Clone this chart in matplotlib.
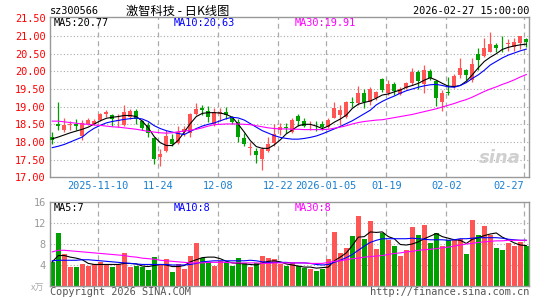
import matplotlib
matplotlib.use("Agg")
import matplotlib.pyplot as plt
import numpy as np

# daily candles, 2025-10-29 .. 2026-02-27 (80 trading days)
opens = [18.14, 18.50, 18.33, 18.48, 18.50, 18.17, 18.51, 18.51, 18.63, 18.79,
         18.75, 18.58, 18.49, 18.70, 18.87, 18.59, 18.49, 18.10, 17.58, 17.75,
         18.09, 17.98, 18.28, 18.26, 18.79, 18.95, 18.89, 18.51, 18.80, 18.84,
         18.70, 18.56, 18.12, 17.84, 17.75, 17.51, 17.75, 17.97, 18.34, 18.42,
         18.29, 18.74, 18.59, 18.44, 18.46, 18.50, 18.43, 18.69, 18.75, 18.72,
         19.12, 19.09, 19.40, 19.12, 19.25, 19.78, 19.38, 19.63, 19.35, 19.54,
         19.66, 19.99, 19.63, 20.01, 19.73, 19.12, 19.42, 19.57, 19.90, 20.04,
         19.75, 20.48, 20.44, 20.56, 20.75, 20.78, 20.77, 20.70, 20.79, 20.91]
highs = [18.29, 19.12, 18.68, 18.58, 18.64, 18.61, 18.67, 18.65, 18.82, 18.90,
         18.80, 18.78, 19.04, 18.93, 18.93, 18.62, 18.57, 18.14, 17.81, 18.35,
         18.22, 18.44, 18.44, 18.81, 19.11, 19.06, 19.01, 18.96, 18.96, 18.98,
         18.74, 18.65, 18.25, 17.99, 17.84, 17.86, 18.14, 18.50, 18.53, 18.53,
         18.67, 18.78, 18.67, 18.58, 18.58, 18.58, 18.67, 19.12, 19.05, 19.16,
         19.26, 19.58, 19.50, 19.57, 19.45, 19.82, 19.75, 19.70, 19.57, 19.69,
         20.10, 20.04, 20.18, 20.08, 19.76, 19.48, 19.85, 19.92, 20.37, 20.08,
         20.39, 20.65, 20.93, 21.10, 20.80, 20.99, 20.92, 20.93, 21.01, 20.94]
lows = [17.95, 18.35, 18.28, 18.33, 18.33, 18.07, 18.47, 18.47, 18.60, 18.70,
        18.45, 18.42, 18.45, 18.65, 18.50, 18.35, 18.13, 17.37, 17.32, 17.72,
        17.90, 17.95, 18.18, 18.14, 18.75, 18.75, 18.56, 18.46, 18.60, 18.65,
        18.50, 18.00, 17.90, 17.62, 17.41, 17.20, 17.72, 17.90, 18.20, 18.25,
        18.25, 18.45, 18.42, 18.35, 18.31, 18.33, 18.40, 18.67, 18.48, 18.67,
        18.98, 19.05, 18.95, 19.05, 19.18, 19.42, 19.33, 19.33, 19.32, 19.50,
        19.62, 19.50, 19.40, 19.75, 19.03, 18.88, 19.33, 19.54, 19.81, 19.75,
        19.70, 20.04, 20.40, 20.54, 20.54, 20.55, 20.57, 20.57, 20.62, 20.70]
closes = [18.07, 18.44, 18.49, 18.52, 18.46, 18.54, 18.63, 18.60, 18.79, 18.85,
          18.65, 18.63, 18.85, 18.87, 18.65, 18.39, 18.25, 17.51, 17.67, 18.16,
          17.95, 18.28, 18.37, 18.79, 18.94, 18.91, 18.70, 18.84, 18.86, 18.75,
          18.56, 18.14, 17.93, 17.85, 17.63, 17.79, 17.93, 18.23, 18.41, 18.39,
          18.62, 18.58, 18.46, 18.46, 18.44, 18.43, 18.62, 18.95, 18.91, 19.12,
          19.10, 19.40, 19.12, 19.50, 19.41, 19.47, 19.63, 19.44, 19.50, 19.66,
          19.97, 19.73, 20.04, 19.80, 19.24, 19.40, 19.38, 19.87, 20.10, 19.90,
          20.20, 20.32, 20.65, 20.76, 20.67, 20.76, 20.79, 20.82, 21.00, 20.83]
ma5 = [18.09, 18.14, 18.20, 18.26, 18.31, 18.36, 18.42, 18.51, 18.60, 18.67,
       18.70, 18.72, 18.75, 18.75, 18.72, 18.59, 18.40, 18.15, 17.98, 17.90,
       17.90, 18.05, 18.28, 18.52, 18.72, 18.81, 18.83, 18.83, 18.82, 18.78,
       18.70, 18.50, 18.28, 18.04, 17.87, 17.82, 17.82, 17.92, 18.06, 18.23,
       18.34, 18.46, 18.50, 18.50, 18.45, 18.38, 18.45, 18.56, 18.65, 18.76,
       18.95, 19.07, 19.12, 19.16, 19.24, 19.33, 19.36, 19.42, 19.47, 19.55,
       19.60, 19.66, 19.75, 19.82, 19.75, 19.66, 19.58, 19.57, 19.60, 19.72,
       19.90, 20.10, 20.28, 20.40, 20.50, 20.62, 20.68, 20.72, 20.75, 20.77]
ma10 = [17.84, 17.88, 17.93, 18.00, 18.07, 18.14, 18.28, 18.39, 18.47, 18.54,
        18.58, 18.61, 18.64, 18.66, 18.68, 18.65, 18.58, 18.46, 18.38, 18.32,
        18.28, 18.24, 18.21, 18.30, 18.38, 18.45, 18.50, 18.54, 18.60, 18.66,
        18.70, 18.68, 18.62, 18.52, 18.42, 18.32, 18.25, 18.18, 18.13, 18.10,
        18.08, 18.08, 18.10, 18.13, 18.17, 18.23, 18.30, 18.37, 18.44, 18.52,
        18.60, 18.70, 18.80, 18.90, 19.05, 19.15, 19.23, 19.30, 19.38, 19.45,
        19.50, 19.55, 19.59, 19.62, 19.63, 19.60, 19.56, 19.55, 19.60, 19.68,
        19.80, 19.90, 20.03, 20.18, 20.28, 20.38, 20.46, 20.52, 20.58, 20.63]
ma30 = [18.59, 18.59, 18.57, 18.55, 18.53, 18.51, 18.50, 18.48, 18.47, 18.45,
        18.43, 18.42, 18.40, 18.38, 18.36, 18.33, 18.30, 18.28, 18.26, 18.25,
        18.26, 18.29, 18.31, 18.33, 18.36, 18.40, 18.45, 18.49, 18.50, 18.51,
        18.51, 18.51, 18.50, 18.49, 18.46, 18.43, 18.40, 18.38, 18.37, 18.37,
        18.36, 18.36, 18.35, 18.35, 18.35, 18.35, 18.36, 18.39, 18.42, 18.46,
        18.51, 18.55, 18.58, 18.60, 18.62, 18.63, 18.66, 18.69, 18.72, 18.75,
        18.78, 18.82, 18.86, 18.90, 18.94, 18.99, 19.04, 19.09, 19.15, 19.20,
        19.27, 19.35, 19.43, 19.50, 19.56, 19.63, 19.69, 19.76, 19.84, 19.91]

# volume, 万手
volume = [4.6, 10.1, 6.0, 3.7, 3.6, 4.1, 3.9, 4.1, 4.6, 4.1,
          3.7, 4.1, 6.3, 3.7, 3.9, 3.7, 3.0, 5.5, 4.1, 5.1,
          2.7, 4.1, 3.2, 5.8, 8.2, 5.3, 4.5, 3.9, 4.7, 4.6,
          3.8, 5.3, 4.3, 3.7, 4.3, 5.7, 5.3, 5.2, 4.2, 3.8,
          4.4, 3.9, 3.5, 3.2, 2.9, 3.3, 5.1, 10.2, 6.3, 7.2,
          9.5, 13.3, 9.0, 12.3, 7.0, 10.1, 8.8, 7.7, 5.7, 6.8,
          11.2, 9.8, 11.6, 8.1, 10.0, 7.6, 8.7, 9.0, 9.0, 6.0,
          12.5, 9.7, 11.4, 9.7, 7.3, 6.8, 8.2, 7.6, 8.4, 7.6]
vma5 = [4.6, 5.8, 5.8, 5.5, 5.3, 5.0, 4.3, 4.1, 4.1, 4.1,
        4.1, 4.1, 4.3, 4.3, 4.2, 3.8, 3.7, 3.9, 4.1, 4.0,
        3.7, 3.7, 3.9, 4.6, 5.0, 5.4, 5.5, 5.5, 5.2, 4.7,
        4.4, 4.3, 4.2, 4.1, 4.0, 4.4, 4.7, 4.8, 4.6, 4.2,
        4.0, 3.8, 3.6, 3.6, 3.4, 3.5, 3.6, 4.8, 5.5, 6.3,
        7.7, 9.3, 9.4, 10.3, 10.2, 10.3, 9.4, 9.0, 7.9, 7.8,
        8.0, 8.4, 9.0, 9.5, 10.0, 9.4, 9.1, 8.8, 8.7, 8.1,
        8.9, 9.2, 9.6, 9.9, 10.1, 9.3, 8.8, 8.2, 7.8, 7.7]
vma10 = [4.8, 4.9, 4.9, 4.9, 4.9, 5.0, 5.0, 4.9, 4.8, 4.7,
         4.6, 4.5, 4.4, 4.3, 4.2, 4.1, 4.1, 4.1, 4.1, 4.1,
         4.0, 4.0, 4.0, 4.1, 4.3, 4.6, 4.7, 4.8, 4.8, 4.8,
         4.8, 4.8, 4.8, 4.9, 4.8, 4.6, 4.5, 4.5, 4.5, 4.5,
         4.4, 4.4, 4.4, 4.3, 4.1, 4.0, 4.1, 4.5, 4.9, 5.4,
         6.0, 6.8, 7.6, 8.3, 8.7, 9.0, 9.0, 9.0, 9.0, 9.0,
         9.1, 9.0, 8.9, 8.8, 8.8, 8.8, 8.7, 8.8, 9.0, 9.0,
         9.1, 9.2, 9.2, 9.2, 9.2, 9.1, 8.9, 8.8, 8.7, 8.7]
vma30 = [6.5, 6.8, 6.8, 6.7, 6.6, 6.5, 6.4, 6.3, 6.2, 6.1,
         6.0, 5.9, 5.8, 5.6, 5.5, 5.3, 5.2, 5.1, 4.9, 4.8,
         4.7, 4.6, 4.5, 4.4, 4.4, 4.4, 4.5, 4.5, 4.5, 4.5,
         4.4, 4.4, 4.4, 4.4, 4.4, 4.3, 4.3, 4.4, 4.4, 4.4,
         4.4, 4.4, 4.4, 4.3, 4.3, 4.3, 4.5, 4.7, 4.8, 5.0,
         5.2, 5.3, 5.5, 5.6, 5.7, 5.8, 6.0, 6.2, 6.3, 6.5,
         6.6, 6.8, 6.9, 7.0, 7.1, 7.3, 7.4, 7.6, 7.8, 8.0,
         8.1, 8.3, 8.4, 8.5, 8.6, 8.6, 8.7, 8.7, 8.7, 8.7]

tick_idx = [8, 18, 28, 38, 46, 56, 66, 79]
tick_lbl = ["2025-11-10", "11-24", "12-08", "12-22", "2026-01-05", "01-19", "02-02", "02-27"]

RED = "#ff5555"
GREEN = "#00a000"
MONO = "DejaVu Sans Mono"
CJK = ["Noto Sans CJK SC", "DejaVu Sans"]

n = len(closes)
x = np.arange(n)
up = np.array(closes) >= np.array(opens)
cols = [RED if u else GREEN for u in up]
xl = (-0.38, 79.45)
grid_x = [t - 0.33 for t in tick_idx]

fig = plt.figure(figsize=(5.45, 3.0), dpi=100)
ax = fig.add_axes([50/545, 1 - 177.3/300, 479/545, 160/300])
vax = fig.add_axes([50/545, 1 - 286/300, 479/545, 84.3/300])

# ---- price panel
for yv in np.arange(17.5, 21.5, 0.5):
    ax.axhline(yv, color="#aaaaaa", lw=0.8, ls=(0, (1, 2)), zorder=0)
for gx in grid_x:
    ax.axvline(gx, color="#aaaaaa", lw=0.9, ls=(0, (4, 3)), zorder=0)

ax.vlines(x, lows, highs, colors=cols, lw=0.9, zorder=2)
bottoms = np.minimum(opens, closes)
heights = np.maximum(np.abs(np.array(closes) - np.array(opens)), 0.015)
ax.bar(x, heights, bottom=bottoms, width=0.72, color=cols, lw=0, zorder=3)

ax.plot(x, ma5, color="black", lw=0.8, zorder=4)
ax.plot(x, ma10, color="#0000ff", lw=0.8, zorder=4)
ax.plot(x, ma30, color="#ff00ff", lw=0.8, zorder=4)

ax.set_xlim(*xl)
ax.set_ylim(17.0, 21.53)
yt = np.arange(17.0, 21.51, 0.5)
ax.set_yticks(yt)
ax.set_yticklabels(["%.2f" % v for v in yt], color="red", fontsize=7.4, family=MONO)
ax.set_xticks(grid_x)
ax.set_xticklabels(tick_lbl, color="#1a7fd0", fontsize=7.4, family=MONO)
ax.get_xticklabels()[-1].set_horizontalalignment("right")
ax.tick_params(length=0, pad=3)
for s in ax.spines.values():
    s.set_color("#999999")
    s.set_linewidth(1.0)

ax.text(0.008, 0.995, "MA5:20.77", transform=ax.transAxes, color="black", fontsize=7.4,
        family=MONO, va="top", ha="left")
ax.text(0.259, 0.995, "MA10:20.63", transform=ax.transAxes, color="#0000ff", fontsize=7.4,
        family=MONO, va="top", ha="left")
ax.text(0.511, 0.995, "MA30:19.91", transform=ax.transAxes, color="#ff00ff", fontsize=7.4,
        family=MONO, va="top", ha="left")
ax.text(0.94, 0.12, "sina", transform=ax.transAxes, color="#d0d0d0", fontsize=13,
        fontweight="bold", style="italic", ha="center", va="center", zorder=1)

# ---- volume panel
for yv in [4, 8, 12]:
    vax.axhline(yv, color="#aaaaaa", lw=0.8, ls=(0, (1, 2)), zorder=0)
for gx in grid_x:
    vax.axvline(gx, color="#aaaaaa", lw=0.9, ls=(0, (4, 3)), zorder=0)
vax.bar(x, volume, width=0.8, color=cols, lw=0, zorder=2)
vax.plot(x, vma5, color="black", lw=0.8, zorder=4)
vax.plot(x, vma10, color="#0000ff", lw=0.8, zorder=4)
vax.plot(x, vma30, color="#ff00ff", lw=0.8, zorder=4)
vax.set_xlim(*xl)
vax.set_ylim(0, 16.05)
vax.set_yticks([4, 8, 12, 16])
vax.set_yticklabels(["4", "8", "12", "16"], color="#999999", fontsize=7.4, family=MONO)
vax.set_xticks([])
vax.tick_params(length=0, pad=3)
for s in vax.spines.values():
    s.set_color("#999999")
    s.set_linewidth(1.0)
vax.text(0.008, 0.99, "MA5:7", transform=vax.transAxes, color="black", fontsize=7.4,
         family=MONO, va="top", ha="left")
vax.text(0.259, 0.99, "MA10:8", transform=vax.transAxes, color="#0000ff", fontsize=7.4,
         family=MONO, va="top", ha="left")
vax.text(0.511, 0.99, "MA30:8", transform=vax.transAxes, color="#ff00ff", fontsize=7.4,
         family=MONO, va="top", ha="left")

# ---- header / footer texts
fig.text(50/545, 1 - 11.5/300, "sz300566", color="black", fontsize=7.4, family=MONO,
         ha="left", va="center")
fig.text(178/545, 1 - 11.5/300, "激智科技 - 日K线图", color="black", fontsize=8.8,
         family=CJK, ha="center", va="center")
fig.text(529/545, 1 - 11.5/300, "2026-02-27 15:00:00", color="black", fontsize=7.4,
         family=MONO, ha="right", va="center")
fig.text(44/545, 1 - 288/300, "x万", color="#aaaaaa", fontsize=6.5, family=CJK,
         ha="right", va="center")
fig.text(50/545, 1 - 292/300, "Copyright 2026 SINA.COM", color="#555555", fontsize=7.4,
         family=MONO, ha="left", va="center")
fig.text(529/545, 1 - 292/300, "http://finance.sina.com.cn", color="#555555", fontsize=7.4,
         family=MONO, ha="right", va="center")

fig.savefig("out.png", dpi=100)
